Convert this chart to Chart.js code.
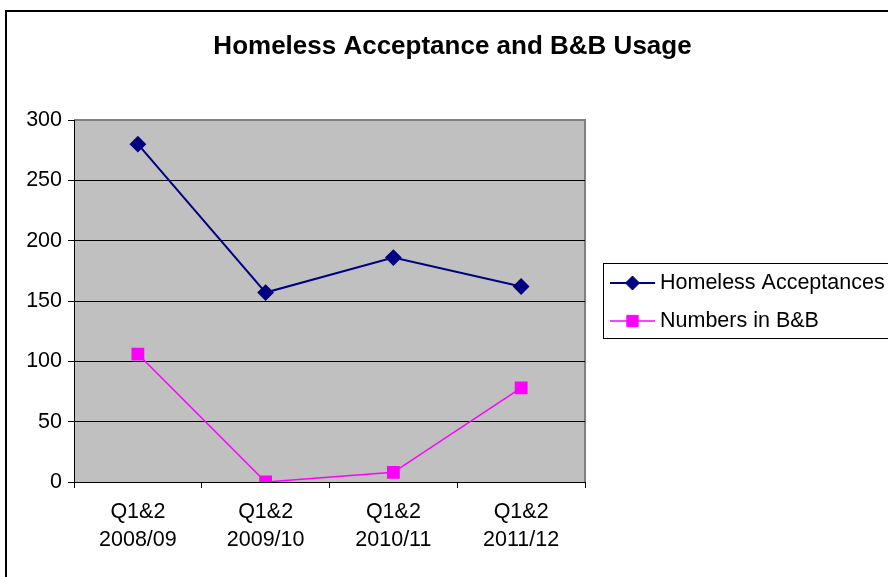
<!DOCTYPE html>
<html>
<head>
<meta charset="utf-8">
<script src="https://cdn.jsdelivr.net/npm/chart.js@4.4.1/dist/chart.umd.min.js"></script>
<style>
  html, body { margin:0; padding:0; background:#fff; }
  #wrap { width:888px; height:577px; position:relative; }
</style>
</head>
<body>
<div id="wrap"><canvas id="chart" width="888" height="577"></canvas></div>
<script>
// data
const categories = [['Q1&2','2008/09'], ['Q1&2','2009/10'], ['Q1&2','2010/11'], ['Q1&2','2011/12']];
const homeless = [280, 157, 186, 162];
const bnb = [106, 0, 8, 78];
const seriesNames = ['Homeless Acceptances', 'Numbers in B&B'];
const titleText = 'Homeless Acceptance and B&B Usage';

const FONT = 'Arial, "Liberation Sans", sans-serif';

/* grey plot area, outer frame and the title (centred on the whole canvas) */
const plotBg = {
  id:'plotBg',
  beforeDraw(chart){
    const {ctx, chartArea:a} = chart;
    ctx.save();
    ctx.strokeStyle = '#000';
    ctx.lineWidth = 2;
    ctx.strokeRect(6, 11, 1000, 1000);
    ctx.fillStyle = '#c0c0c0';
    ctx.fillRect(a.left, a.top, a.right - a.left, a.bottom - a.top);
    ctx.strokeStyle = '#808080';
    ctx.lineWidth = 2;
    ctx.beginPath();
    ctx.moveTo(a.left, a.top); ctx.lineTo(a.right, a.top); ctx.lineTo(a.right, a.bottom);
    ctx.stroke();
    ctx.fillStyle = '#000';
    ctx.font = 'bold 26px ' + FONT;
    ctx.textAlign = 'center';
    ctx.textBaseline = 'middle';
    ctx.fillText(titleText, 452.5, 47);
    ctx.restore();
  }
};

/* boxed legend on the right, drawn from the datasets */
const boxLegend = {
  id:'boxLegend',
  afterDraw(chart){
    const ctx = chart.ctx;
    const x0 = 603, y0 = 263, h = 75;
    ctx.save();
    ctx.strokeStyle = '#000';
    ctx.lineWidth = 1;
    ctx.strokeRect(x0 + 0.5, y0 + 0.5, 400, h);
    chart.data.datasets.forEach((ds, i) => {
      const y = y0 + 20 + i * 38;
      ctx.strokeStyle = ds.borderColor;
      ctx.lineWidth = ds.borderWidth;
      ctx.beginPath(); ctx.moveTo(610, y); ctx.lineTo(655, y); ctx.stroke();
      ctx.fillStyle = ds.pointBackgroundColor;
      ctx.strokeStyle = ds.pointBorderColor;
      ctx.lineWidth = 1;
      Chart.helpers.drawPoint(ctx, {pointStyle: ds.pointStyle, radius: ds.pointRadius, rotation: 0, borderWidth: 1},
        632.5, y);
      ctx.fillStyle = '#000';
      ctx.font = '21.5px ' + FONT;
      ctx.textBaseline = 'middle';
      ctx.textAlign = 'left';
      ctx.fillText(ds.label, 660, y);
    });
    ctx.restore();
  }
};

new Chart(document.getElementById('chart'), {
  type:'line',
  data:{
    labels: categories,
    datasets:[
      { label: seriesNames[0], data: homeless, borderColor:'#000080', backgroundColor:'#000080',
        pointBackgroundColor:'#000080', pointBorderColor:'#000080', borderWidth:2,
        pointStyle:'rectRot', pointRadius:7, pointHoverRadius:7, tension:0 },
      { label: seriesNames[1], data: bnb, borderColor:'#ff00ff', backgroundColor:'#ff00ff',
        pointBackgroundColor:'#ff00ff', pointBorderColor:'#ff00ff', borderWidth:1.5,
        pointStyle:'rect', pointRadius:8, pointHoverRadius:8, tension:0 }
    ]
  },
  options:{
    responsive:false,
    animation:false,
    layout:{ padding:{ top:120, left:0, right:303, bottom:0 } },
    plugins:{
      legend:{ display:false },
      tooltip:{ enabled:false },
      title:{ display:false }
    },
    scales:{
      x:{
        offset:true,
        afterFit: s => { s.height = 95; },
        border:{ color:'#000', width:1 },
        grid:{ offset:true, drawOnChartArea:false, drawTicks:true, tickLength:6, color:'#000' },
        ticks:{ color:'#000', padding:10, maxRotation:0, font:{ family:FONT, size:21.5, lineHeight:'28px' } }
      },
      y:{
        min:0, max:300,
        afterFit: s => { s.width = 74; },
        border:{ color:'#000', width:1 },
        grid:{ color: c => (c.tick && c.tick.value === 300) ? 'rgba(0,0,0,0)' : '#000',
               tickColor:'#000', lineWidth:1, tickLength:6 },
        ticks:{ stepSize:50, color:'#000', padding:6, font:{ family:FONT, size:21.5 } }
      }
    }
  },
  plugins:[plotBg, boxLegend]
});
</script>
</body>
</html>
